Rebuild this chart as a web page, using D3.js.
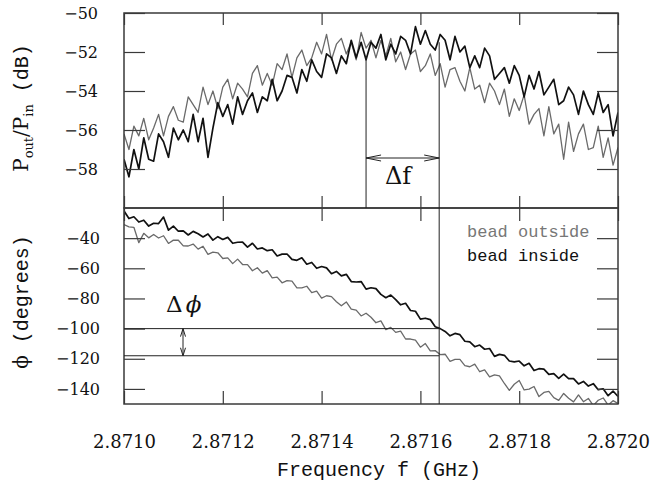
<!DOCTYPE html>
<html>
<head>
<meta charset="utf-8">
<script src="https://cdn.jsdelivr.net/npm/d3@7"></script>
<style>
  body { margin: 0; background: #fff; }
  svg { display: block; }
</style>
</head>
<body>
<svg width="650" height="493"></svg>
<script>
// sweep: 101 samples from 2.8710 GHz in 10 kHz steps
var freqStart = 2.8710, freqStep = 0.00001;

// transmission in dB
var powerOutside = [
  -56.2, -57.0, -55.8, -56.3, -55.4, -56.5, -55.9, -55.2, -56.3, -55.3,
  -54.8, -55.5, -55.6, -54.3, -54.7, -55.1, -53.8, -54.7, -54.0, -54.9,
  -53.8, -53.4, -54.4, -53.6, -53.9, -54.3, -53.1, -52.7, -53.7, -53.1,
  -53.7, -52.6, -52.9, -52.1, -53.3, -52.3, -51.9, -52.7, -52.3, -51.5,
  -52.1, -51.1, -52.4, -51.6, -51.3, -52.1, -51.5, -52.4, -51.0, -51.8,
  -51.4, -52.3, -51.4, -52.2, -51.3, -52.5, -52.0, -52.9, -52.1, -51.9,
  -53.0, -52.7, -52.1, -53.2, -52.6, -53.8, -52.9, -52.8, -53.5, -54.0,
  -52.8, -53.9, -53.7, -54.6, -53.6, -54.0, -54.7, -53.9, -55.3, -54.4,
  -55.0, -54.2, -55.7, -55.2, -54.9, -56.3, -54.8, -56.2, -55.7, -57.5,
  -55.6, -57.1, -56.2, -55.7, -57.0, -56.9, -55.8, -57.4, -56.4, -57.8,
  -56.9
];
var powerInside = [
  -57.5, -58.4, -57.0, -58.0, -56.4, -57.5, -57.6, -56.2, -56.6, -57.4,
  -55.9, -56.5, -56.0, -56.6, -55.2, -56.6, -55.4, -57.4, -55.9, -54.6,
  -55.3, -54.7, -55.7, -54.3, -55.2, -54.5, -54.1, -55.1, -54.3, -54.5,
  -53.4, -54.5, -54.0, -53.2, -53.3, -54.1, -52.9, -53.5, -52.4, -53.0,
  -53.3, -52.1, -52.3, -53.1, -52.2, -52.6, -51.4, -52.3, -51.5, -52.4,
  -51.5, -51.8, -51.1, -52.4, -51.6, -52.1, -51.2, -51.4, -52.1, -50.7,
  -51.6, -50.9, -51.6, -51.9, -51.1, -51.4, -52.4, -51.2, -52.0, -51.7,
  -52.8, -52.2, -52.8, -51.8, -52.2, -53.4, -53.1, -52.8, -53.6, -52.7,
  -53.2, -54.3, -53.2, -53.9, -53.0, -54.2, -53.8, -53.4, -54.7, -54.5,
  -53.8, -54.2, -55.2, -54.0, -54.7, -55.2, -54.1, -55.1, -54.7, -56.3,
  -55.1
];

// phase in degrees
var phaseOutside = [
  -31.0, -32.5, -32.8, -43.0, -36.8, -39.8, -37.6, -39.9, -38.4, -43.5,
  -41.3, -41.4, -45.1, -45.2, -43.9, -47.3, -45.4, -50.7, -49.3, -49.7,
  -53.5, -53.1, -56.9, -53.9, -57.5, -57.5, -61.6, -59.6, -63.2, -61.5,
  -66.3, -65.8, -69.6, -68.2, -68.5, -73.0, -73.0, -71.9, -76.1, -75.1,
  -79.8, -78.2, -78.8, -82.2, -84.9, -82.3, -87.0, -87.7, -91.6, -89.8,
  -92.5, -96.1, -94.9, -100.7, -99.2, -102.5, -101.7, -106.9, -106.9, -107.6,
  -112.3, -109.9, -114.7, -114.6, -117.2, -117.0, -121.7, -120.4, -120.4, -124.6,
  -125.3, -123.6, -128.6, -127.4, -132.0, -130.7, -131.3, -136.4, -141.0, -136.9,
  -134.4, -140.7, -140.1, -138.4, -145.1, -142.3, -141.6, -145.8, -147.6, -143.0,
  -146.2, -148.6, -144.0, -148.5, -146.3, -151.0, -147.5, -146.0, -150.7, -147.8,
  -149.7
];
var phaseInside = [
  -22.0, -27.0, -25.8, -29.3, -28.1, -32.0, -30.1, -30.3, -26.0, -34.7,
  -32.0, -35.4, -35.2, -37.9, -35.5, -37.1, -39.2, -37.2, -41.3, -39.0,
  -40.9, -39.5, -43.4, -42.7, -42.6, -46.0, -43.4, -47.2, -46.5, -48.3,
  -47.7, -51.8, -50.6, -50.5, -54.1, -54.7, -53.0, -57.3, -56.1, -60.0,
  -58.8, -59.7, -63.6, -62.1, -65.0, -64.0, -68.8, -69.1, -68.8, -73.8,
  -72.9, -73.5, -77.3, -79.5, -77.7, -80.8, -84.2, -83.2, -88.0, -88.5,
  -93.7, -93.1, -94.0, -98.8, -100.0, -101.9, -104.8, -103.2, -104.0, -108.4,
  -108.8, -112.0, -110.9, -113.7, -113.2, -118.4, -117.1, -117.7, -121.5, -122.1,
  -121.5, -124.7, -123.0, -127.8, -126.6, -126.9, -130.3, -129.8, -133.0, -130.2,
  -133.2, -133.2, -136.7, -135.0, -138.1, -136.5, -140.5, -139.9, -144.5, -141.4,
  -145.0
];

var freqTicks = [2.8710, 2.8712, 2.8714, 2.8716, 2.8718, 2.8720];
var powerTicks = [-50, -52, -54, -56, -58];
var phaseTicks = [-40, -60, -80, -100, -120, -140];

var peakFreq = [2.87149, 2.871638];
var peakPower = [-52.2, -51.5];
var phaseMarks = [-100, -118];
var legendLabels = ["bead outside", "bead inside"];

(function () {
  var svg = d3.select("svg");
  var mLeft = 124, mRight = 618, mTop = 13, mMid = 208, mBottom = 404;
  var grey = "#6a6a6a", ink = "#111", frame = "#3a3a3a";
  var serif = "'DejaVu Serif', 'Liberation Serif', serif";
  var mono = "'Liberation Mono', monospace";

  var x = d3.scaleLinear().domain([2.8710, 2.8720]).range([mLeft, mRight]);
  var yP = d3.scaleLinear().domain([-60, -50]).range([mMid, mTop]);
  var yA = d3.scaleLinear().domain([-150, -20]).range([mBottom, mMid]);

  var defs = svg.append("defs");
  defs.append("clipPath").attr("id", "clipTop")
    .append("rect").attr("x", mLeft).attr("y", mTop).attr("width", mRight - mLeft).attr("height", mMid - mTop);
  defs.append("clipPath").attr("id", "clipBot")
    .append("rect").attr("x", mLeft).attr("y", mMid).attr("width", mRight - mLeft).attr("height", mBottom - mMid);

  function freqAt(i) { return freqStart + i * freqStep; }

  function series(vals, yScale) {
    return d3.line().x(function(d, i) { return x(freqAt(i)); }).y(function(d) { return yScale(d); })(vals);
  }

  // curves
  var gTop = svg.append("g").attr("clip-path", "url(#clipTop)");
  gTop.append("path").attr("d", series(powerOutside, yP))
    .attr("fill", "none").attr("stroke", grey).attr("stroke-width", 1.3).attr("stroke-linejoin", "round");
  gTop.append("path").attr("d", series(powerInside, yP))
    .attr("fill", "none").attr("stroke", ink).attr("stroke-width", 1.7).attr("stroke-linejoin", "round");

  var gBot = svg.append("g").attr("clip-path", "url(#clipBot)");
  gBot.append("path").attr("d", series(phaseOutside, yA))
    .attr("fill", "none").attr("stroke", grey).attr("stroke-width", 1.3).attr("stroke-linejoin", "round");
  gBot.append("path").attr("d", series(phaseInside, yA))
    .attr("fill", "none").attr("stroke", ink).attr("stroke-width", 1.7).attr("stroke-linejoin", "round");

  // axes (ticks drawn inward)
  function strip(size) {
    return function(g) {
      g.attr("font-family", serif).attr("font-size", size);
      g.select(".domain").remove();
      g.selectAll(".tick line").attr("stroke", frame).attr("stroke-width", 1.2);
      g.selectAll(".tick text").attr("fill", "#111").style("font-family", serif);
    };
  }
  var fmtY = d3.format("d");

  svg.append("g").attr("transform", "translate(" + mLeft + ",0)")
    .call(d3.axisLeft(yP).tickValues(powerTicks).tickSize(-21).tickPadding(26).tickFormat(fmtY))
    .call(strip(16));
  svg.append("g").attr("transform", "translate(" + mLeft + ",0)")
    .call(d3.axisLeft(yA).tickValues(phaseTicks).tickSize(-21).tickPadding(24).tickFormat(fmtY))
    .call(strip(16));
  svg.append("g").attr("transform", "translate(" + mRight + ",0)")
    .call(d3.axisRight(yP).tickValues(powerTicks).tickSize(-21).tickFormat(""))
    .call(strip(16));
  svg.append("g").attr("transform", "translate(" + mRight + ",0)")
    .call(d3.axisRight(yA).tickValues(phaseTicks).tickSize(-21).tickFormat(""))
    .call(strip(16));

  svg.append("g").attr("transform", "translate(0," + mTop + ")")
    .call(d3.axisTop(x).tickValues(freqTicks).tickSize(-12).tickFormat("")).call(strip(16));
  svg.append("g").attr("transform", "translate(0," + mMid + ")")
    .call(d3.axisBottom(x).tickValues(freqTicks).tickSize(-12).tickFormat("")).call(strip(16));
  svg.append("g").attr("transform", "translate(0," + mMid + ")")
    .call(d3.axisTop(x).tickValues(freqTicks).tickSize(-13).tickFormat("")).call(strip(16));
  svg.append("g").attr("transform", "translate(0," + mBottom + ")")
    .call(d3.axisBottom(x).tickValues(freqTicks).tickSize(-13).tickPadding(31).tickFormat(d3.format(".4f")))
    .call(strip(18));

  // frames
  svg.append("rect").attr("x", mLeft).attr("y", mTop).attr("width", mRight - mLeft).attr("height", mMid - mTop)
    .attr("fill", "none").attr("stroke", frame).attr("stroke-width", 1.5);
  svg.append("rect").attr("x", mLeft).attr("y", mMid).attr("width", mRight - mLeft).attr("height", mBottom - mMid)
    .attr("fill", "none").attr("stroke", frame).attr("stroke-width", 1.5);

  // delta f annotation
  var ann = svg.append("g").attr("stroke", "#222").attr("stroke-width", 1).attr("fill", "none");
  ann.append("line").attr("x1", x(peakFreq[0])).attr("x2", x(peakFreq[0]))
    .attr("y1", yP(peakPower[0])).attr("y2", mMid);
  ann.append("line").attr("x1", x(peakFreq[1])).attr("x2", x(peakFreq[1]))
    .attr("y1", yP(peakPower[1])).attr("y2", mBottom);

  var ay = 158;
  var xa = x(peakFreq[0]), xb = x(peakFreq[1]);
  ann.append("line").attr("x1", xa).attr("x2", xb).attr("y1", ay).attr("y2", ay);
  ann.append("path").attr("d", "M" + (xa + 15) + "," + (ay - 3) + "L" + xa + "," + ay + "L" + (xa + 15) + "," + (ay + 3));
  ann.append("path").attr("d", "M" + (xb - 15) + "," + (ay - 3) + "L" + xb + "," + ay + "L" + (xb - 15) + "," + (ay + 3));
  svg.append("text").attr("x", 385).attr("y", 184).attr("font-family", serif)
    .attr("font-size", 24).attr("fill", "#111").text("\u0394f");

  // delta phi annotation
  phaseMarks.forEach(function(v) {
    ann.append("line").attr("x1", mLeft).attr("x2", x(peakFreq[1])).attr("y1", yA(v)).attr("y2", yA(v));
  });
  var px = 183, p1 = yA(phaseMarks[0]), p2 = yA(phaseMarks[1]);
  ann.append("line").attr("x1", px).attr("x2", px).attr("y1", p1).attr("y2", p2);
  ann.append("path").attr("d", "M" + (px - 2.5) + "," + (p1 + 8) + "L" + px + "," + p1 + "L" + (px + 2.5) + "," + (p1 + 8));
  ann.append("path").attr("d", "M" + (px - 2.5) + "," + (p2 - 8) + "L" + px + "," + p2 + "L" + (px + 2.5) + "," + (p2 - 8));
  var dphi = svg.append("text").attr("x", 166).attr("y", 312).attr("font-family", serif)
    .attr("font-size", 23).attr("fill", "#111");
  dphi.append("tspan").text("\u0394");
  dphi.append("tspan").attr("font-style", "italic").attr("dx", 3).text("\u03d5");

  // legend
  svg.append("text").attr("font-family", mono).attr("x", 467).attr("y", 237).attr("font-size", 17)
    .attr("fill", "#777").text(legendLabels[0]);
  svg.append("text").attr("font-family", mono).attr("x", 467).attr("y", 261).attr("font-size", 17)
    .attr("fill", "#111").text(legendLabels[1]);

  // axis titles
  svg.append("text").attr("font-family", mono).attr("x", (mLeft + mRight) / 2 + 8).attr("y", 476)
    .attr("text-anchor", "middle").attr("font-size", 20).attr("fill", "#111").text("Frequency f (GHz)");

  var t1 = svg.append("text").attr("transform", "translate(28,108) rotate(-90)")
    .attr("text-anchor", "middle").attr("fill", "#111").attr("font-size", 20)
    .attr("font-family", serif);
  t1.append("tspan").text("P");
  t1.append("tspan").attr("font-size", 13).attr("dy", 5).text("out");
  t1.append("tspan").attr("dy", -5).text("/P");
  t1.append("tspan").attr("font-size", 13).attr("dy", 5).text("in");
  t1.append("tspan").attr("dy", -5).attr("font-family", mono).text(" (dB)");

  var t2 = svg.append("text").attr("transform", "translate(28,302) rotate(-90)")
    .attr("text-anchor", "middle").attr("fill", "#111").attr("font-size", 20);
  t2.append("tspan").attr("font-family", serif).text("\u03d5");
  t2.append("tspan").attr("font-family", mono).text(" (degrees)");
})();
</script>
</body>
</html>
